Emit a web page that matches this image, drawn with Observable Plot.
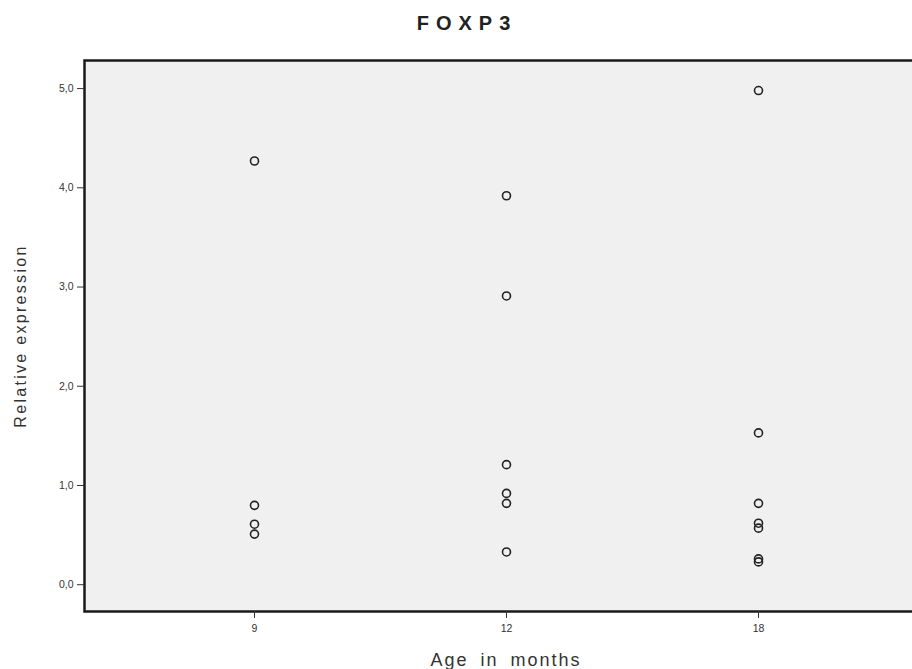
<!DOCTYPE html>
<html>
<head>
<meta charset="utf-8">
<script src="https://cdn.jsdelivr.net/npm/d3@7"></script>
<script src="https://cdn.jsdelivr.net/npm/@observablehq/plot@0.6"></script>
<style>
  html, body { margin: 0; padding: 0; background: #fff; overflow: hidden; width: 912px; height: 669px; }
  #title { position: absolute; left: 0; top: 12px; width: 934px; text-align: center;
           font-family: "Liberation Sans", Arial, sans-serif; font-weight: bold; font-size: 20px;
           letter-spacing: 7px; color: #222; }
  #chart { position: absolute; left: 0; top: 56px; width: 930px; }
  #chart svg { max-width: none !important; }
</style>
</head>
<body>
<div id="title">FOXP3</div>
<div id="chart"></div>
<script>
const ages = ["9", "12", "18"];
const age9 = [4.27, 0.80, 0.61, 0.51];
const age12 = [3.92, 2.91, 1.21, 0.92, 0.82, 0.33];
const age18 = [4.98, 1.53, 0.82, 0.62, 0.57, 0.26, 0.23];
const yTicks = [0, 1, 2, 3, 4, 5];

const data = [
  ...age9.map(v => ({age: "9", value: v})),
  ...age12.map(v => ({age: "12", value: v})),
  ...age18.map(v => ({age: "18", value: v}))
];

const chart = Plot.plot({
  width: 930,
  height: 613,
  marginLeft: 84,
  marginRight: 3,
  marginTop: 4,
  marginBottom: 58,
  style: { fontFamily: "Liberation Sans, Arial, sans-serif", fontSize: "10px", color: "#333", background: "transparent", maxWidth: "none" },
  x: { type: "point", domain: ages, padding: 0.6726 },
  y: { domain: [-0.27, 5.283] },
  marks: [
    Plot.frame({ fill: "#f0f0f0", stroke: "#1a1a1a", strokeWidth: 2.5 }),
    Plot.axisY({ ticks: yTicks, tickSize: 7, tickPadding: 4, tickFormat: d => d.toFixed(1).replace(".", ","),
                 label: "Relative expression", labelArrow: false, labelAnchor: "center", labelOffset: 70, fontSize: 10.5 }),
    Plot.axisX({ tickSize: 7, tickPadding: 6, label: "Age in months", labelArrow: false, labelAnchor: "center", labelOffset: 54, fontSize: 10.5 }),
    Plot.dot(data, { x: "age", y: "value", symbol: "circle", r: 4, stroke: "#222", strokeWidth: 1.6, fill: "none" })
  ]
});
chart.querySelectorAll("[aria-label='y-axis label'] text").forEach(t => {
  t.setAttribute("font-size", "16");
  t.setAttribute("letter-spacing", "2.3");
  t.textContent = t.textContent.replace(/[\u2190-\u2193]/g, "").trim();
});
chart.querySelectorAll("[aria-label='x-axis label'] text").forEach(t => {
  t.setAttribute("font-size", "18");
  t.setAttribute("letter-spacing", "2");
  t.setAttribute("word-spacing", "5");
  t.textContent = t.textContent.replace(/[\u2190-\u2193]/g, "").trim();
});
document.getElementById("chart").appendChild(chart);
</script>
</body>
</html>
